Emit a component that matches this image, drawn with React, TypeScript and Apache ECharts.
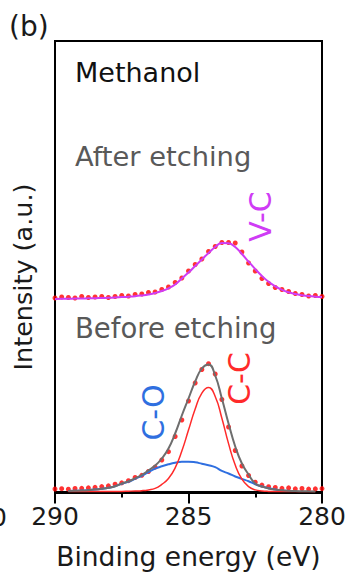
import React, { useEffect, useRef } from "react";
import * as echarts from "echarts";

// Binding energy grid (eV), 0.25 eV steps, high to low
const ENERGY = [
  290, 289.75, 289.5, 289.25, 289, 288.75, 288.5, 288.25, 288, 287.75,
  287.5, 287.25, 287, 286.75, 286.5, 286.25, 286, 285.75, 285.5, 285.25,
  285, 284.75, 284.5, 284.25, 284, 283.75, 283.5, 283.25, 283, 282.75,
  282.5, 282.25, 282, 281.75, 281.5, 281.25, 281, 280.75, 280.5, 280.25, 280,
];

// After etching: measured counts and V-C fit (offset upward)
const AFTER_RAW = [
  193.5, 194.5, 194, 193.5, 195, 194, 194.5, 195, 194, 195,
  196, 195.5, 197, 197.5, 199, 199.5, 202, 204.5, 209, 213.5,
  220.5, 227, 232.5, 240, 245, 249, 249, 248.5, 239.5, 228.5,
  220.5, 213, 208, 204, 202, 200, 198, 197, 195.5, 196, 195,
];
const AFTER_VC_FIT = [
  192.6, 192.7, 192.8, 192.9, 193.0, 193.2, 193.3, 193.5, 193.7, 194.0,
  194.4, 194.8, 195.3, 196.1, 197.1, 198.5, 200.5, 203.2, 207.0, 213.0,
  219.0, 225.5, 232.0, 238.5, 244.5, 248.6, 248.2, 244.5, 237.5, 229.9,
  222.4, 215.5, 209.7, 205.1, 201.7, 199.2, 197.5, 196.3, 195.4, 194.8, 194.4,
];

// Before etching: measured counts, envelope and two components
const BEFORE_RAW = [
  2.5, 2.8, 2.3, 3.0, 3.2, 3.6, 4.1, 4.9, 5.6, 7.3,
  8.6, 10.8, 14.0, 16.2, 20.0, 24.4, 31.5, 39.8, 55.0, 71.5,
  90.5, 108.5, 122.0, 127.8, 117.5, 92.0, 64.5, 41.0, 25.5, 16.0,
  9.3, 6.4, 4.8, 4.0, 3.2, 3.6, 2.7, 3.0, 2.4, 2.6, 2.9,
];
const BEFORE_ENVELOPE = [
  null, null, 0.5, 0.7, 0.9, 1.3, 1.9, 2.7, 3.7, 5.2,
  7.9, 10.1, 13.2, 16.5, 21.1, 25.9, 33, 43, 58, 76,
  93, 110, 123, 127, 116, 93, 68, 45, 28, 17,
  8, 5, 3, 2, 1.2, 0.7, 0.4, 0.3, 0.2, 0.1, null,
];
const BEFORE_CC = [
  null, null, 0, 0, 0, 0, 0, 0, 0, 0,
  0.1, 0.3, 0.5, 0.8, 1.6, 3.1, 7.1, 13, 23.6, 40.4,
  61.4, 82.5, 98.4, 104, 95, 73.3, 47.9, 26.4, 12.3, 4.9,
  1.6, 0.5, 0.1, 0, 0, 0, 0, 0, 0, 0, null,
];
const BEFORE_CO = [
  null, null, 0.5, 0.7, 0.9, 1.3, 1.9, 2.7, 3.7, 5.2,
  7.8, 9.8, 12.7, 15.7, 19.5, 22.8, 25.2, 27.2, 28.8, 29.8,
  29.8, 29.2, 27.8, 26.3, 24.3, 20.6, 18.0, 15.0, 12.6, 10.3,
  7.2, 5.0, 3.3, 2.0, 1.0, 0.5, null, null, null, null, null,
];

const X_TICKS = { min: 280, max: 290, step: 5 };
const FONT = "DejaVu Sans";

const pairs = (vals: (number | null)[]) =>
  ENERGY.map((e, i) => (vals[i] == null ? null : [e, vals[i] as number])).filter(
    (p) => p !== null
  ) as number[][];

export default function App() {
  const ref = useRef<HTMLDivElement>(null);

  useEffect(() => {
    if (!ref.current) return;
    const chart = echarts.init(ref.current, null, { renderer: "svg" });

    const rotatedLabel = (text: string, x: number, y: number, color: string, size = 30) => ({
      type: "text",
      x,
      y,
      rotation: Math.PI / 2,
      style: {
        text,
        fill: color,
        font: `${size}px "${FONT}"`,
        align: "center",
        verticalAlign: "middle",
      },
    });

    chart.setOption({
      animation: false,
      backgroundColor: "#fff",
      grid: {
        left: 55,
        right: 29,
        top: 41,
        bottom: 82,
        show: true,
        borderColor: "#000",
        borderWidth: 2,
        backgroundColor: "transparent",
      },
      xAxis: {
        type: "value",
        min: X_TICKS.min,
        max: X_TICKS.max,
        interval: X_TICKS.step,
        inverse: true,
        axisLine: { show: true, lineStyle: { color: "#000", width: 2 } },
        axisTick: { show: true, length: 12, lineStyle: { color: "#000", width: 2 } },
        minorTick: { show: true, splitNumber: 2, length: 6, lineStyle: { color: "#000", width: 2 } },
        splitLine: { show: false },
        axisLabel: { fontSize: 25, color: "#1a1a1a", fontFamily: FONT, margin: 11 },
        name: "Binding energy (eV)",
        nameLocation: "middle",
        nameGap: 50,
        nameTextStyle: { fontSize: 26.5, color: "#1a1a1a", fontFamily: FONT },
      },
      yAxis: {
        type: "value",
        min: -1.5,
        max: 450.5,
        axisLine: { show: true, lineStyle: { color: "#000", width: 2 } },
        axisTick: { show: false },
        axisLabel: { show: false },
        splitLine: { show: false },
      },
      series: [
        {
          name: "V-C fit",
          type: "line",
          data: pairs(AFTER_VC_FIT),
          smooth: true,
          showSymbol: false,
          lineStyle: { color: "#cf3cf5", width: 2 },
        },
        {
          name: "After etching",
          type: "scatter",
          data: pairs(AFTER_RAW),
          symbol: "circle",
          symbolSize: 5,
          itemStyle: { color: "#ff0000" },
        },
        {
          name: "C-O",
          type: "line",
          data: pairs(BEFORE_CO),
          smooth: true,
          showSymbol: false,
          lineStyle: { color: "#2f6fe0", width: 2 },
        },
        {
          name: "C-C",
          type: "line",
          data: pairs(BEFORE_CC),
          smooth: true,
          showSymbol: false,
          lineStyle: { color: "#ff2a2a", width: 1.5 },
        },
        {
          name: "Envelope",
          type: "line",
          data: pairs(BEFORE_ENVELOPE),
          smooth: true,
          showSymbol: false,
          lineStyle: { color: "#6e6e6e", width: 2 },
        },
        {
          name: "Before etching",
          type: "scatter",
          data: pairs(BEFORE_RAW),
          symbol: "circle",
          symbolSize: 5,
          itemStyle: { color: "#ff0000" },
        },
      ],
      graphic: [
        {
          type: "text",
          x: 9,
          y: 26,
          style: { text: "(b)", fill: "#1a1a1a", font: `28px "${FONT}"`, verticalAlign: "middle" },
        },
        {
          type: "text",
          x: 7,
          y: 517,
          style: { text: "280", fill: "#1a1a1a", font: `25px "${FONT}"`, align: "right", verticalAlign: "middle" },
        },
        rotatedLabel("Intensity (a.u.)", 23, 277, "#1a1a1a", 25.5),
        {
          type: "text",
          x: 75,
          y: 72,
          style: { text: "Methanol", fill: "#111", font: `27px "${FONT}"`, verticalAlign: "middle" },
        },
        {
          type: "text",
          x: 75,
          y: 156,
          style: { text: "After etching", fill: "#595959", font: `27.3px "${FONT}"`, verticalAlign: "middle" },
        },
        {
          type: "text",
          x: 75,
          y: 328,
          style: { text: "Before etching", fill: "#595959", font: `27.5px "${FONT}"`, verticalAlign: "middle" },
        },
        rotatedLabel("V-C", 260, 216.5, "#cf3cf5"),
        rotatedLabel("C-O", 153.5, 412.5, "#2f6fe0"),
        rotatedLabel("C-C", 239, 378.5, "#ff2a2a"),
      ],
    });

    return () => chart.dispose();
  }, []);

  return (
    <div
      ref={ref}
      style={{ position: "fixed", left: 0, top: 0, width: 351, height: 575, background: "#fff" }}
    />
  );
}
